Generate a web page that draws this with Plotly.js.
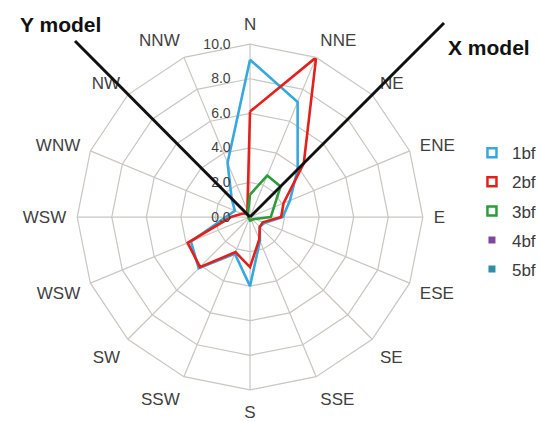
<!DOCTYPE html>
<html>
<head>
<meta charset="utf-8">
<script src="https://cdn.plot.ly/plotly-3.0.1.min.js"></script>
<style>html,body{margin:0;padding:0;background:#fff;}#chart{width:540px;height:421px;}</style>
</head>
<body>
<div id="chart"></div>
<script>
// Direction labels (clockwise from North), as printed in the chart
const directions = ['N','NNE','NE','ENE','E','ESE','SE','SSE','S','SSW','SW','WSW','WSW','WNW','NW','NNW'];
const seriesNames = ['1bf','2bf','3bf','4bf','5bf'];
const s1bf = [9.1, 7.2, 3.9, 2.5, 1.9, 0.9, 0.8, 1.5, 4.0, 2.3, 4.2, 3.7, 1.4, 0.95, 1.5, 3.4];
const s2bf = [6.1, 10.0, 4.4, 2.1, 1.8, 0.8, 0.8, 1.4, 2.9, 2.2, 4.1, 3.9, 1.1, 0.5, 0.3, 0.4];
const s3bf = [1.3, 2.6, 2.5, 1.5, 1.2, 0.3, 0.2, 0.2, 0.2, 0.1, 0.1, 0.1, 0.1, 0.1, 0.2, 0.3];
const s4bf = [0,0,0,0,0,0,0,0,0,0,0,0,0,0,0,0];
const s5bf = [0,0,0,0,0,0,0,0,0,0,0,0,0,0,0,0];
const radialTicks = [0, 2, 4, 6, 8, 10];
const modelLabels = ['Y model', 'X model'];

const colors = ['#35a8df', '#e3201b', '#2a9d3a', '#7b4a9b', '#2f8fa6'];
const keys = directions.map((d, i) => 'd' + i);
const close = a => a.concat([a[0]]);

const values = [s1bf, s2bf, s3bf, s4bf, s5bf];
const traces = [];
values.forEach((v, i) => {
  traces.push({
    type: 'scatterpolar', mode: 'lines',
    r: close(v), theta: close(keys),
    line: {color: colors[i], width: 2.6},
    showlegend: false, hoverinfo: 'skip'
  });
});
// legend entries
seriesNames.forEach((n, i) => {
  const open = i < 3;
  traces.push({
    type: 'scatterpolar', mode: 'markers',
    r: [null], theta: [keys[0]], name: n, legendgroup: 'g' + i,
    marker: open ? {symbol: 'square-open', size: 9, color: colors[i], line: {width: 2.5, color: colors[i]}}
                 : {symbol: 'square', size: 7, color: colors[i]},
    hoverinfo: 'skip'
  });
});

const gridCol = '#c9c6c2';
const W = 540, H = 421;
const px = x => x / W, py = y => 1 - y / H;
const layout = {
  width: W, height: H,
  margin: {l: 0, r: 0, t: 0, b: 0, autoexpand: false},
  paper_bgcolor: '#fff',
  font: {family: 'Liberation Sans, Arial, sans-serif', color: '#3f3f3f'},
  showlegend: true,
  legend: {x: 0.874, y: 0.679, xanchor: 'left', yanchor: 'top', traceorder: 'grouped', tracegroupgap: 4,
           font: {size: 17, color: '#3a3a3a'}, itemwidth: 30, bgcolor: 'rgba(0,0,0,0)'},
  polar: {
    domain: {x: [0.143, 0.783], y: [0.074, 0.895]},
    bgcolor: '#fff',
    gridshape: 'linear',
    angularaxis: {
      type: 'category', categoryarray: keys, direction: 'clockwise', rotation: 90,
      tickmode: 'array', tickvals: keys, ticktext: directions,
      showline: true, linecolor: gridCol, linewidth: 1.2,
      gridcolor: gridCol, gridwidth: 1.2, ticks: 'outside', ticklen: 7, tickcolor: 'rgba(0,0,0,0)',
      tickfont: {size: 17, color: '#3f3f3f'}
    },
    radialaxis: {
      range: [0, 10], tickvals: radialTicks, tickformat: '.1f', angle: 90, side: 'counterclockwise',
      tickangle: 90, showline: false, gridcolor: gridCol, gridwidth: 1.2,
      ticks: 'outside', ticklen: 14, tickcolor: 'rgba(0,0,0,0)', tickfont: {size: 14, color: '#3f3f3f'}
    }
  },
  shapes: [
    {type: 'line', xref: 'paper', yref: 'paper', x0: px(250), y0: py(217), x1: px(75), y1: py(41),
     line: {color: '#111', width: 3}},
    {type: 'line', xref: 'paper', yref: 'paper', x0: px(250), y0: py(217), x1: px(444), y1: py(23),
     line: {color: '#111', width: 3}}
  ],
  annotations: [
    {text: '<b>' + modelLabels[0] + '</b>', xref: 'paper', yref: 'paper', x: px(60), y: py(25),
     xanchor: 'center', yanchor: 'middle', showarrow: false, font: {size: 21, color: '#111'}},
    {text: '<b>' + modelLabels[1] + '</b>', xref: 'paper', yref: 'paper', x: px(489), y: py(47),
     xanchor: 'center', yanchor: 'middle', showarrow: false, font: {size: 21, color: '#111'}}
  ]
};
Plotly.newPlot('chart', traces, layout, {displayModeBar: false, staticPlot: true});
</script>
</body>
</html>
